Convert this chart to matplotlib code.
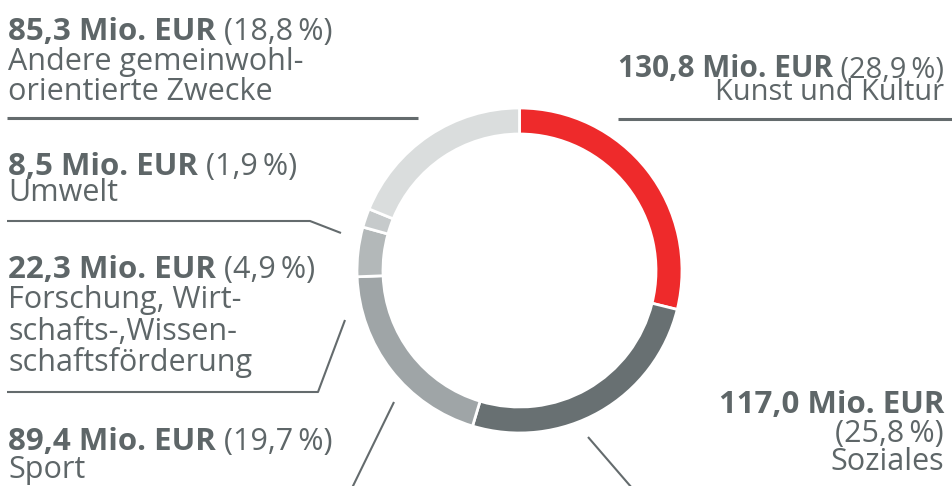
import matplotlib
matplotlib.use("Agg")
import matplotlib.pyplot as plt
from matplotlib.lines import Line2D

categories = ["Kunst und Kultur", "Soziales", "Sport",
              "Forschung, Wirtschafts-,Wissenschaftsförderung", "Umwelt",
              "Andere gemeinwohlorientierte Zwecke"]
amounts = [130.8, 117.0, 89.4, 22.3, 8.5, 85.3]
amount_labels = ["130,8 Mio. EUR", "117,0 Mio. EUR", "89,4 Mio. EUR",
                 "22,3 Mio. EUR", "8,5 Mio. EUR", "85,3 Mio. EUR"]
pct_labels = ["(28,9\u2009%)", "(25,8\u2009%)", "(19,7\u2009%)",
              "(4,9\u2009%)", "(1,9\u2009%)", "(18,8\u2009%)"]
colors = ["#ee2a2b", "#687072", "#9fa5a7", "#b3b8b9", "#c6cacb", "#dadddd"]

W, H = 952, 486
TXT = "#5e6668"
LINE = "#646b6d"
FAM = ["Open Sans", "DejaVu Sans"]
FS = 22
FSB = 22.5

fig = plt.figure(figsize=(W / 100, H / 100), dpi=100)
fig.patch.set_facecolor("white")

cx, cy, r = 519.5, 270.5, 162.5
ax = fig.add_axes([(cx - r) / W, (H - cy - r) / H, 2 * r / W, 2 * r / H])
ax.pie(amounts, colors=colors, startangle=90, counterclock=False,
       radius=1.0, wedgeprops=dict(width=0.16, edgecolor="white", linewidth=2))
ax.set_xlim(-1, 1)
ax.set_ylim(-1, 1)
ax.axis("off")

renderer = fig.canvas.get_renderer()


def fx(x):
    return x / W


def fy(y):
    return 1 - y / H


def txt(x, y, s, bold=False, ha="left", scale=1.0):
    return fig.text(fx(x), fy(y), s, fontsize=(FSB if bold else FS) * scale,
                    family=FAM, color=TXT,
                    fontweight="bold" if bold else "normal",
                    ha=ha, va="baseline")


def mixed_left(x, y, b, n, scale=1.0):
    t = txt(x, y, b, bold=True, scale=scale)
    w = t.get_window_extent(renderer).width
    txt(x + w, y, " " + n, scale=scale)


def mixed_right(x, y, b, n, scale=1.0):
    t = txt(x, y, " " + n, ha="right", scale=scale)
    w = t.get_window_extent(renderer).width
    txt(x - w, y, b, bold=True, ha="right", scale=scale)


def line(xs, ys, lw=1.5):
    fig.add_artist(Line2D([fx(v) for v in xs], [fy(v) for v in ys],
                          color=LINE, linewidth=lw, transform=fig.transFigure,
                          solid_capstyle="butt"))


# Andere (top-left)
mixed_left(8, 40, amount_labels[5], pct_labels[5])
txt(8, 70, "Andere gemeinwohl-")
txt(8, 100, "orientierte Zwecke")
line([7, 418], [118, 118], lw=2.2)

# Kunst und Kultur (top-right)
mixed_right(944, 77, amount_labels[0], pct_labels[0], scale=0.95)
txt(944, 100, categories[0], ha="right", scale=0.95)
line([618, 952], [119, 119], lw=2.2)

# Umwelt
mixed_left(8, 175, amount_labels[4], pct_labels[4])
txt(8, 201, categories[4])
line([7, 310, 341], [221, 221, 233])

# Forschung
mixed_left(8, 278, amount_labels[3], pct_labels[3])
txt(8, 308, "Forschung, Wirt-")
txt(8, 340, "schafts-,Wissen-")
txt(8, 371, "schaftsförderung")
line([7, 318, 345], [392, 392, 320])

# Sport
mixed_left(8, 450, amount_labels[2], pct_labels[2])
txt(8, 478, categories[2])
line([352, 394], [488, 402])

# Soziales
txt(944, 413, amount_labels[1], bold=True, ha="right")
txt(944, 442, pct_labels[1], ha="right")
txt(944, 470, categories[1], ha="right")
line([588, 632], [437, 488])

fig.savefig("out.png", dpi=100, facecolor="white")
